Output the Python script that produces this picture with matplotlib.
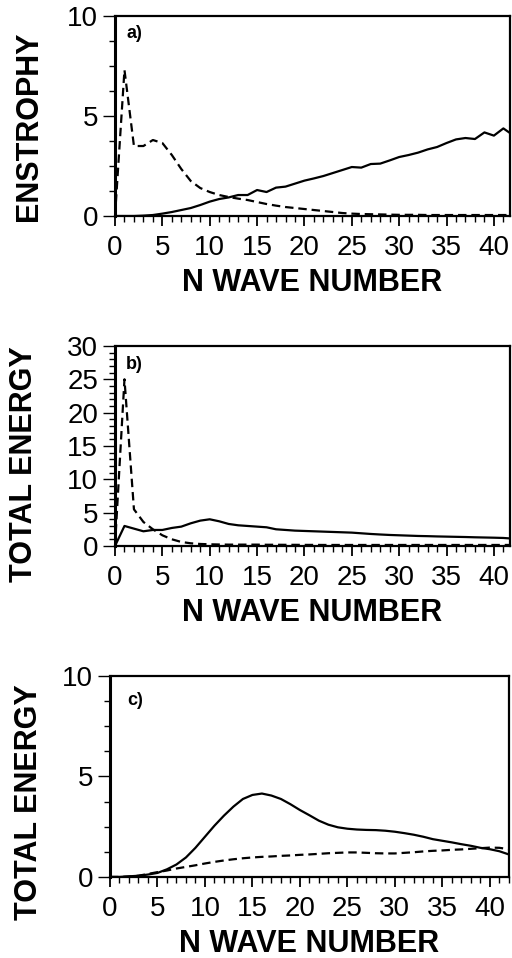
import numpy as np
import matplotlib
matplotlib.use("Agg")
import matplotlib.pyplot as plt
from matplotlib.ticker import MultipleLocator

plt.rcParams["font.family"] = ["Liberation Sans", "DejaVu Sans"]

n = np.arange(0, 43)

# a) enstrophy
ens_solid = [0.0, 0.0, 0.0, 0.02, 0.05, 0.12, 0.2, 0.3, 0.4, 0.55, 0.72,
             0.85, 0.93, 1.05, 1.05, 1.3, 1.2, 1.42, 1.47, 1.62, 1.77,
             1.88, 2.0, 2.15, 2.3, 2.45, 2.42, 2.6, 2.62, 2.78, 2.95,
             3.05, 3.17, 3.33, 3.45, 3.65, 3.83, 3.9, 3.85, 4.18, 4.02,
             4.38, 4.05]
ens_dash = [0.0, 7.3, 3.5, 3.5, 3.8, 3.65, 3.05, 2.35, 1.75, 1.4, 1.2,
            1.05, 0.95, 0.87, 0.8, 0.7, 0.6, 0.52, 0.45, 0.4, 0.35,
            0.3, 0.25, 0.2, 0.15, 0.12, 0.1, 0.09, 0.08, 0.07, 0.06,
            0.06, 0.06, 0.05, 0.05, 0.05, 0.05, 0.05, 0.05, 0.05, 0.05,
            0.05, 0.05]

# b) total energy
te_solid = [0.0, 3.0, 2.6, 2.2, 2.4, 2.4, 2.7, 2.9, 3.4, 3.8, 4.0,
            3.7, 3.3, 3.1, 3.0, 2.9, 2.8, 2.5, 2.4, 2.3, 2.25,
            2.2, 2.15, 2.1, 2.05, 2.0, 1.9, 1.8, 1.72, 1.65, 1.6,
            1.55, 1.5, 1.47, 1.43, 1.4, 1.37, 1.34, 1.3, 1.27, 1.24,
            1.2, 1.1]
te_dash = [0.0, 25.0, 5.5, 3.6, 2.5, 1.6, 1.0, 0.6, 0.4, 0.3, 0.25,
           0.22, 0.2, 0.2, 0.2, 0.2, 0.18, 0.18, 0.17, 0.17, 0.16,
           0.16, 0.15, 0.15, 0.15, 0.15, 0.15, 0.15, 0.15, 0.15, 0.15,
           0.15, 0.15, 0.15, 0.15, 0.15, 0.15, 0.15, 0.15, 0.15, 0.15,
           0.15, 0.15]

# c) total energy
tc_solid = [0.0, 0.0, 0.03, 0.06, 0.12, 0.2, 0.38, 0.62, 0.97, 1.45, 2.0,
            2.55, 3.05, 3.5, 3.88, 4.08, 4.15, 4.05, 3.88, 3.62, 3.33,
            3.07, 2.8, 2.6, 2.47, 2.4, 2.36, 2.34, 2.33, 2.3, 2.25,
            2.18, 2.1, 2.0, 1.88, 1.8, 1.72, 1.63, 1.55, 1.45, 1.38,
            1.28, 1.12]
tc_dash = [0.0, 0.0, 0.02, 0.06, 0.15, 0.24, 0.32, 0.42, 0.5, 0.58, 0.67,
           0.75, 0.82, 0.88, 0.93, 0.97, 1.0, 1.02, 1.05, 1.07, 1.1,
           1.12, 1.15, 1.18, 1.2, 1.22, 1.22, 1.2, 1.18, 1.17, 1.17,
           1.2, 1.23, 1.27, 1.3, 1.32, 1.35, 1.37, 1.4, 1.43, 1.46,
           1.45, 1.38]

panels = [
    # rect, ylabel, ymax, y major, y minor, solid, dash, tag, tag pos, xmax, ylabel pos
    ([0.2246, 0.7745, 0.7715, 0.2088], "ENSTROPHY", 10, 5, 1.25,
     ens_solid, ens_dash, "a)", (0.05, 0.915), 41.7, (-0.18, 0.45)),
    ([0.2246, 0.4301, 0.7715, 0.2088], "TOTAL ENERGY", 30, 5, 1,
     te_solid, te_dash, "b)", (0.05, 0.905), 41.7, (-0.192, 0.41)),
    ([0.2148, 0.0846, 0.7790, 0.2098], "TOTAL ENERGY", 10, 5, 1.25,
     tc_solid, tc_dash, "c)", (0.063, 0.88), 42.0, (-0.165, 0.37)),
]

fig = plt.figure(figsize=(5.12, 9.58), dpi=100)

for rect, ylab, ymax, ymaj, ymin, solid, dash, tag, tpos, xmax, ypos in panels:
    ax = fig.add_axes(rect)
    ax.plot(n, solid, color="black", lw=1.6, solid_capstyle="round")
    ax.plot(n, dash, color="black", lw=1.6, dashes=(3.8, 2.2))
    ax.set_xlim(0, xmax)
    ax.set_ylim(0, ymax)
    ax.xaxis.set_major_locator(MultipleLocator(5))
    ax.xaxis.set_minor_locator(MultipleLocator(1))
    ax.yaxis.set_major_locator(MultipleLocator(ymaj))
    ax.yaxis.set_minor_locator(MultipleLocator(ymin))
    ax.tick_params(axis="x", which="major", direction="out", length=7,
                   width=1.3, labelsize=20, pad=7)
    ax.tick_params(axis="x", which="minor", direction="out", length=4,
                   width=1.0)
    ax.tick_params(axis="y", which="major", direction="out", length=9,
                   width=1.0, labelsize=20, pad=3)
    ax.tick_params(axis="y", which="minor", direction="out", length=4,
                   width=1.0)
    for s in ax.spines.values():
        s.set_linewidth(1.6)
    ax.spines["left"].set_linewidth(2.2)
    ax.set_xlabel("N WAVE NUMBER", fontsize=22, fontweight="bold")
    ax.xaxis.set_label_coords(0.5, -0.26)
    ax.set_ylabel(ylab, fontsize=22, fontweight="bold")
    ax.yaxis.set_label_coords(*ypos)
    ax.text(tpos[0], tpos[1], tag, transform=ax.transAxes, fontsize=13,
            fontweight="bold", ha="center", va="center")

fig.savefig("out.png", dpi=100)
